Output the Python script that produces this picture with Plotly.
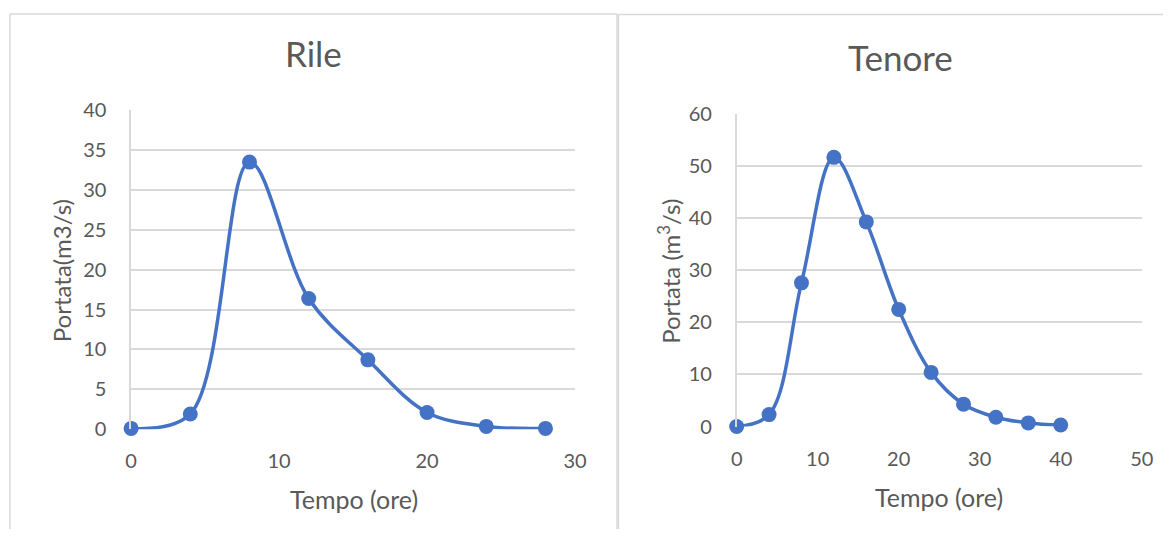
import plotly.graph_objects as go

# Data
rile_t = [0, 4, 8, 12, 16, 20, 24, 28]
rile_q = [0.1, 1.9, 33.5, 16.4, 8.7, 2.1, 0.35, 0.1]
tenore_t = [0, 4, 8, 12, 16, 20, 24, 28, 32, 36, 40]
tenore_q = [0.0, 2.3, 27.6, 51.7, 39.3, 22.5, 10.4, 4.3, 1.8, 0.7, 0.3]

rile_xticks = [0, 10, 20, 30]
rile_yticks = [0, 5, 10, 15, 20, 25, 30, 35, 40]
tenore_xticks = [0, 10, 20, 30, 40, 50]
tenore_yticks = [0, 10, 20, 30, 40, 50, 60]

W, H = 1175, 540
BLUE = "#4472C4"
GRID = "#d9d9d9"
TXT = "#595959"
FONT = "Lato"

# the photographed page is slightly rescaled; convert target picture pixels to page paper coords
SX, OX = 0.987, 4.6
SY, OY = 0.9517, 13.1


def px(x):
    return min(1.0, max(0.0, ((x - OX) / SX) / W))


def py(y):
    return min(1.0, max(0.0, 1 - ((y - OY) / SY) / H))


def py_edge(y):
    return min(py(y), 1 - 1.0 / H)


fig = go.Figure()
fig.add_trace(go.Scatter(x=rile_t, y=rile_q, mode="lines+markers",
                         line=dict(color=BLUE, width=3.5, shape="spline", smoothing=1),
                         marker=dict(color=BLUE, size=15), xaxis="x", yaxis="y",
                         showlegend=False, cliponaxis=False))
fig.add_trace(go.Scatter(x=tenore_t, y=tenore_q, mode="lines+markers",
                         line=dict(color=BLUE, width=3.5, shape="spline", smoothing=1),
                         marker=dict(color=BLUE, size=15), xaxis="x2", yaxis="y2",
                         showlegend=False, cliponaxis=False))

tickfont = dict(family=FONT, size=20, color=TXT)


def xax(domain, rng, vals, anchor):
    return dict(domain=domain, range=rng, tickvals=vals, anchor=anchor,
                showgrid=False, showline=False, zeroline=False,
                ticks="outside", ticklen=14, tickcolor="rgba(0,0,0,0)",
                tickfont=tickfont, fixedrange=True)


def yax(domain, rng, vals, anchor):
    return dict(domain=domain, range=rng, tickvals=vals, anchor=anchor,
                showgrid=True, gridcolor=GRID, gridwidth=1.5, zeroline=False,
                showline=True, linecolor=GRID, linewidth=1.5,
                ticks="outside", ticklen=19, tickcolor="rgba(0,0,0,0)",
                tickfont=tickfont, fixedrange=True)


fig.update_layout(
    width=W, height=H, margin=dict(l=0, r=0, t=0, b=0),
    paper_bgcolor="white", plot_bgcolor="white",
    font=dict(family=FONT, color=TXT),
    xaxis=xax([px(130), px(575)], [0, 30], rile_xticks, "y"),
    yaxis=yax([py(427.6), py(110)], [0, 40], rile_yticks, "x"),
    xaxis2=xax([px(737), px(1143)], [0, 50], tenore_xticks, "y2"),
    yaxis2=yax([py(425), py(113.8)], [0, 60], tenore_yticks, "x2"),
)

# Panel borders (kept inside the page)
border = dict(color=GRID, width=1.5)
segments = [
    (8.5, 11, 8.5, 540),        # left panel: left edge
    (8.5, 11, 617, 11),         # left panel: top edge
    (617, 11, 617, 540),        # left panel: right edge
    (618, 14.5, 1175, 14.5),    # right panel: top edge
    (618.5, 14.5, 618.5, 540),  # right panel: left edge
]
for x0, y0, x1, y1 in segments:
    fig.add_shape(type="line", xref="paper", yref="paper",
                  x0=px(x0), y0=py_edge(y0), x1=px(x1), y1=py_edge(y1),
                  line=border, layer="below")


def note(text, x, y, size, angle=0):
    return dict(text=text, x=px(x), y=py(y), xref="paper", yref="paper", showarrow=False,
                textangle=angle, font=dict(family=FONT, size=size, color=TXT),
                xanchor="center", yanchor="middle")


ann = [
    note("Rile", 313, 53, 35),
    note("Tenore", 901, 57, 35),
    note("Tempo (ore)", 353, 497, 25),
    note("Tempo (ore)", 940, 495, 25),
    note("Portata(m3/s)", 61, 270, 24, -90),
    note("Portata (m<sup>3</sup>/s)", 669, 270, 24, -90),
]
fig.update_layout(annotations=ann)

fig.write_html("out.html", config={"displayModeBar": False},
               post_script="document.body.style.margin='0';document.body.style.overflow='hidden';")
